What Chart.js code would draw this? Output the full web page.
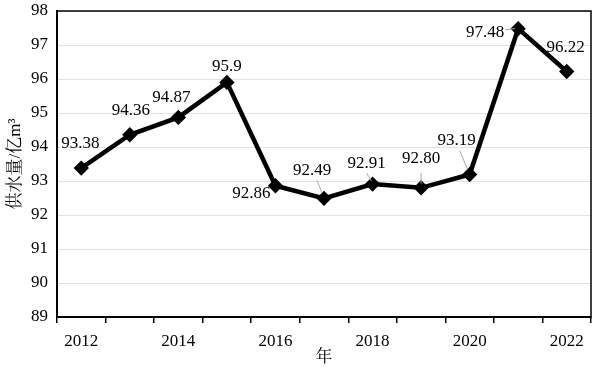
<!DOCTYPE html>
<html>
<head>
<meta charset="utf-8">
<script src="https://cdn.jsdelivr.net/npm/chart.js@4"></script>
<style>
  body { margin: 0; background: #fff; }
  #wrap { width: 600px; height: 368px; }
</style>
</head>
<body>
<div id="wrap"><canvas id="chartCanvas"></canvas></div>
<script>
// 数据
const years = ['2012', '2013', '2014', '2015', '2016', '2017', '2018', '2019', '2020', '2021', '2022'];
const supply = [93.38, 94.36, 94.87, 95.9, 92.86, 92.49, 92.91, 92.80, 93.19, 97.48, 96.22];
const supplyLabels = ['93.38', '94.36', '94.87', '95.9', '92.86', '92.49', '92.91', '92.80', '93.19', '97.48', '96.22'];
const yTicks = [89, 90, 91, 92, 93, 94, 95, 96, 97, 98];

// 标签相对数据点的位置 (文字中心) 和引线
const labelOffsets = [[-1, -25], [1, -24], [-7, -20], [0, -16], [-24, 8], [-12, -28], [-6, -21], [0, -29], [-13, -34], [-33, 4], [-1, -24]];
const leaders = {5: [-7, -18, -2, -5], 6: [-6, -11, -1, -3], 7: [0, -15, 0, -4], 8: [-10, -24, -2, -5], 9: [-13, 1, -3, 0]};

const serif = "'Liberation Serif', 'Times New Roman', 'Noto Serif CJK SC', 'Noto Sans CJK SC', serif";

const frame = {
    id: 'frame',
    afterDatasetsDraw(chart) {
        const a = chart.chartArea;
        const ctx = chart.ctx;
        ctx.save();
        ctx.strokeStyle = '#000';
        ctx.lineWidth = 1.5;
        ctx.strokeRect(a.left, a.top, a.right - a.left, a.bottom - a.top);

        // 数值标签
        const meta = chart.getDatasetMeta(0);
        ctx.font = '17px ' + serif;
        ctx.fillStyle = '#000';
        ctx.textAlign = 'center';
        ctx.textBaseline = 'middle';
        meta.data.forEach((pt, i) => {
            const off = labelOffsets[i];
            if (leaders[i]) {
                const l = leaders[i];
                ctx.strokeStyle = '#a8a8a8';
                ctx.lineWidth = 1;
                ctx.beginPath();
                ctx.moveTo(pt.x + l[0], pt.y + l[1]);
                ctx.lineTo(pt.x + l[2], pt.y + l[3]);
                ctx.stroke();
            }
            ctx.fillText(supplyLabels[i], pt.x + off[0], pt.y + off[1]);
        });
        ctx.restore();
    }
};

const ctx = document.getElementById('chartCanvas').getContext('2d');
new Chart(ctx, {
    type: 'line',
    data: {
        labels: years,
        datasets: [{
            data: supply,
            borderColor: '#000',
            backgroundColor: '#000',
            borderWidth: 4.5,
            pointStyle: 'rectRot',
            pointRadius: 4.5,
            pointBackgroundColor: '#000',
            pointBorderColor: '#000',
            tension: 0
        }]
    },
    options: {
        responsive: true,
        maintainAspectRatio: false,
        animation: false,
        layout: { padding: { top: 11, right: 5, left: 0, bottom: 0 } },
        plugins: {
            legend: { display: false },
            tooltip: { enabled: false }
        },
        scales: {
            x: {
                type: 'category',
                offset: true,
                grid: {
                    offset: true,
                    drawOnChartArea: false,
                    drawTicks: true,
                    tickLength: 6,
                    color: '#000',
                    lineWidth: 1.5
                },
                border: { color: '#000', width: 2 },
                ticks: {
                    autoSkip: false,
                    maxRotation: 0,
                    padding: 8,
                    color: '#000',
                    font: { family: serif, size: 17 },
                    callback: (v, i) => (i % 2 === 0 ? years[i] : '')
                },
                title: {
                    display: true,
                    text: '年',
                    color: '#000',
                    padding: 0,
                    font: { family: serif, size: 17 }
                },
                afterFit: (scale) => {
                    scale.height = 51;
                    scale.paddingLeft = 0;
                    scale.paddingRight = 0;
                }
            },
            y: {
                min: yTicks[0],
                max: yTicks[yTicks.length - 1],
                afterBuildTicks: (scale) => { scale.ticks = yTicks.map(v => ({ value: v })); },
                grid: { color: '#e2e2e2', lineWidth: 1, drawTicks: false },
                border: { color: '#000', width: 2 },
                ticks: {
                    padding: 9,
                    color: '#000',
                    font: { family: serif, size: 17 }
                },
                title: {
                    display: true,
                    text: '供水量/亿m³',
                    color: '#000',
                    padding: { top: 5, bottom: 5 },
                    font: { family: serif, size: 17 }
                },
                afterFit: (scale) => {
                    scale.width = 57;
                    scale.paddingTop = 0;
                    scale.paddingBottom = 0;
                }
            }
        }
    },
    plugins: [frame]
});
</script>
</body>
</html>
